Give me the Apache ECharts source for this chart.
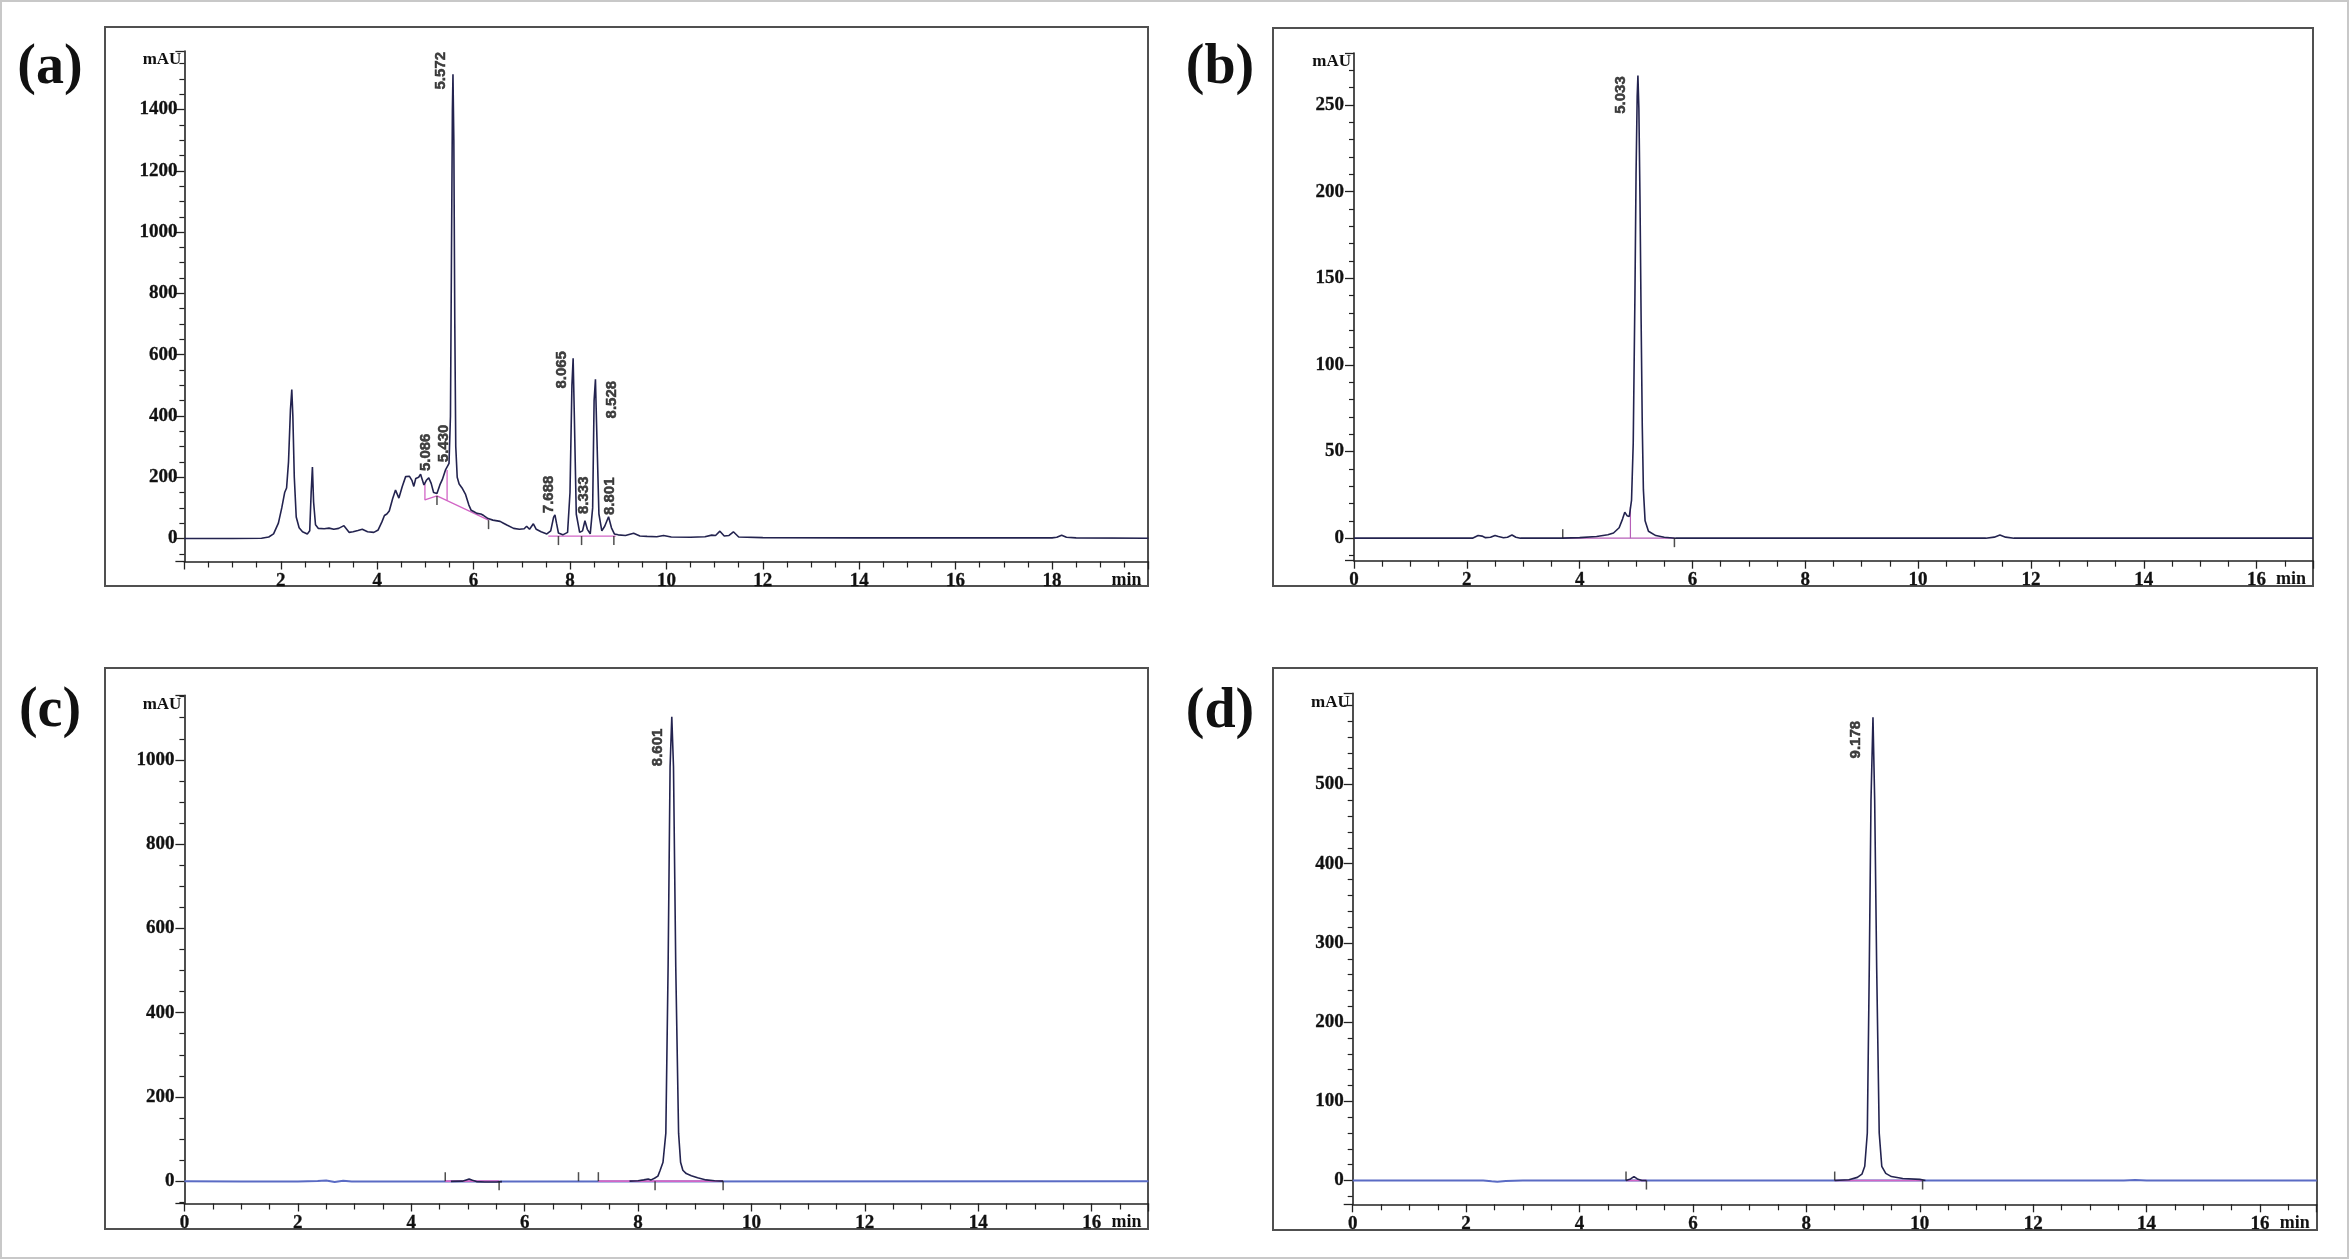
<!DOCTYPE html>
<html><head><meta charset="utf-8">
<script src="https://cdn.jsdelivr.net/npm/echarts@6/dist/echarts.min.js"></script>
<style>html,body{margin:0;padding:0;background:#fff}#c{width:2349px;height:1260px}</style>
</head><body><div id="c"></div>
<script>
// ---------------- DATA ----------------
// Panel (a) chromatogram (time in min, absorbance in mAU)
const traceA = [[0,0],[1.0,0],[1.6,1],[1.75,5],[1.85,15],[1.95,50],[2.02,100],[2.08,150],[2.12,165],[2.16,250],[2.2,420],[2.228,486],[2.25,400],[2.28,200],[2.32,70],[2.38,35],[2.45,22],[2.55,15],[2.6,25],[2.63,150],[2.656,233],[2.68,120],[2.72,45],[2.78,33],[2.9,32],[3.0,34],[3.1,30],[3.2,33],[3.31,42],[3.42,20],[3.5,22],[3.6,26],[3.69,30],[3.8,22],[3.93,20],[4.02,28],[4.1,55],[4.15,75],[4.2,80],[4.25,90],[4.32,130],[4.38,158],[4.45,132],[4.52,170],[4.59,202],[4.67,203],[4.72,190],[4.76,170],[4.8,196],[4.86,200],[4.9,210],[4.97,175],[5.02,190],[5.07,198],[5.12,180],[5.17,150],[5.24,147],[5.3,175],[5.35,192],[5.42,225],[5.49,245],[5.52,400],[5.54,900],[5.56,1400],[5.572,1515],[5.59,1300],[5.61,700],[5.63,300],[5.66,200],[5.7,178],[5.76,165],[5.83,145],[5.9,110],[5.95,92],[6.0,88],[6.07,82],[6.15,80],[6.21,75],[6.25,80],[6.3,65],[6.4,60],[6.55,56],[6.62,50],[6.69,44],[6.83,33],[6.95,30],[7.05,32],[7.1,40],[7.16,30],[7.24,48],[7.3,30],[7.4,22],[7.52,15],[7.6,25],[7.66,70],[7.688,77],[7.72,50],[7.76,18],[7.85,12],[7.95,20],[8.0,150],[8.04,500],[8.065,588],[8.09,400],[8.13,80],[8.2,20],[8.26,25],[8.31,58],[8.36,30],[8.42,15],[8.47,100],[8.5,450],[8.528,520],[8.55,380],[8.6,80],[8.66,25],[8.72,40],[8.8,71],[8.86,35],[8.92,15],[9.0,12],[9.15,10],[9.32,17],[9.45,8],[9.6,7],[9.8,6],[9.94,10],[10.1,5],[10.5,4],[10.8,6],[10.94,11],[11.02,10],[11.11,24],[11.2,8],[11.3,10],[11.39,22],[11.5,5],[12,3],[14,2],[16,2],[18.0,2],[18.1,4],[18.2,11],[18.3,4],[18.5,2],[20,1]];
const peakTimesA = [5.086, 5.430, 5.572, 7.688, 8.065, 8.333, 8.528, 8.801];
const peakHeightsA = [198, 224, 1515, 77, 588, 58, 520, 71];
const integA = [[[4.99,180],[4.99,126],[5.24,139],[6.31,60]], [[5.45,224],[5.45,125]], [[7.55,8],[8.95,8]]];
const eventsA = [[5.24,139],[6.31,60],[7.76,8],[8.24,8],[8.91,8]];

// Panel (b)
const traceB = [[0,0],[2.1,0],[2.2,1.5],[2.27,1.2],[2.33,0.3],[2.42,0.5],[2.5,1.6],[2.56,1.0],[2.65,0.2],[2.72,0.5],[2.8,1.8],[2.87,0.5],[2.95,0],[3.5,0],[3.7,0],[4.0,0.3],[4.3,1],[4.5,2],[4.6,3],[4.7,6],[4.76,11],[4.8,15],[4.84,13],[4.88,12.5],[4.92,22],[4.95,55],[4.98,140],[5.0,210],[5.02,255],[5.033,267],[5.05,248],[5.07,195],[5.09,125],[5.11,65],[5.13,28],[5.16,10],[5.22,4],[5.35,1.5],[5.5,0.5],[5.7,0],[11.2,0],[11.35,0.6],[11.45,1.8],[11.55,0.6],[11.7,0],[17,0]];
const peakTimesB = [5.033];
const peakHeightsB = [267];
const integB = [[[3.7,0],[5.68,0]], [[4.9,0],[4.9,18]]];
const eventsUpB = [[3.7,0]];
const eventsDownB = [[5.68,0]];

// Panel (c)
const baseC = [[0,0],[1.0,-1],[2.0,-1],[2.35,0.5],[2.5,1.5],[2.65,-2],[2.8,1],[2.95,-0.5],[3.5,-1],[4.5,-1],[4.6,-0.5],[6,-0.5],[17,0]];
const traceC1 = [[4.7,-0.5],[4.9,0],[4.97,3],[5.02,5],[5.08,2],[5.15,-1],[5.3,-2],[5.5,-2],[5.6,-1]];
const traceC2 = [[7.85,0],[8.0,1],[8.1,3],[8.18,5],[8.23,3],[8.29,7],[8.35,12],[8.39,26],[8.44,45],[8.49,114],[8.53,509],[8.565,984],[8.595,1102],[8.625,984],[8.665,509],[8.715,114],[8.75,45],[8.79,26],[8.85,18],[8.94,13],[9.05,8],[9.2,3],[9.35,1],[9.5,0]];
const peakTimesC = [8.601];
const peakHeightsC = [1102];
const integC = [[[4.6,0],[5.55,0]], [[7.3,0],[9.5,0]]];
const eventsUpC = [[4.6,0],[6.95,0],[7.3,0]];
const eventsDownC = [[5.55,0],[8.3,0],[9.5,0]];

// Panel (d)
const baseD = [[0,0],[2.3,0],[2.45,-1],[2.55,-1.5],[2.7,-0.5],[3,0],[13.6,0],[13.8,0.8],[14,0],[17,0]];
const traceD1 = [[4.82,0],[4.9,2],[4.96,5],[5.02,2],[5.1,0],[5.18,0]];
const traceD2 = [[8.5,0],[8.75,1],[8.9,4],[8.98,8],[9.03,18],[9.075,60],[9.11,270],[9.14,480],[9.175,585],[9.205,480],[9.24,270],[9.285,60],[9.33,18],[9.4,9],[9.5,5],[9.7,2.5],[10.0,1.5],[10.1,0]];
const peakTimesD = [9.178];
const peakHeightsD = [585];
const integD = [[[4.82,0],[5.18,0]], [[8.5,0],[10.05,0]]];
const eventsUpD = [[4.82,0],[8.5,0]];
const eventsDownD = [[5.18,0],[10.05,0]];

// Axis ranges / ticks
const xRanges = [[0,20],[0,17],[0,17],[0,17]];
const yRanges = [[-75,1591],[-13,280],[-53,1153],[-30,615]];
const yTickSteps = [200, 50, 200, 100];
const yMinorSplits = [4, 5, 4, 5];
const panelLetters = ['(a)','(b)','(c)','(d)'];

// ---------------- LAYOUT / STYLE ----------------
const grids = [
  {left:184.4, top:51, width:964, height:510.5},
  {left:1354, top:53, width:959, height:507.7},
  {left:184.4, top:695.4, width:964, height:508.1},
  {left:1352.7, top:693.4, width:964, height:510.9}
];
const boxes = [
  {x:105, y:27, w:1043, h:559},
  {x:1273, y:28, w:1040, h:558},
  {x:105, y:668, w:1043, h:561},
  {x:1273, y:668, w:1044, h:562}
];
const letterPos = [[50,69],[1220,69],[50,712],[1220,713]];
// pixel offsets of the rotated peak labels relative to apex
const labelOffsetsA = [[-3,-25],[-2,-26],[-12,-3],[-6,-20],[-11,12],[-2,-25],[17,21],[1.5,-20]];
const labelOffsetsB = [[-17,20]];
const labelOffsetsC = [[-14,31]];
const labelOffsetsD = [[-17,23]];
const yLabelMargins = [7, 10, 10, 9];

const NAVY = '#23234f';
const BLUE = '#5a6bc4';
const MAG = '#d266c6';
const AX = '#222';
const serif = '"Liberation Serif", "Times New Roman", serif';

const xAxes = [], yAxes = [];
for (let i = 0; i < 4; i++) {
  const yTop = yRanges[i][1], step = yTickSteps[i];
  xAxes.push({
    type:'value', gridIndex:i, min:xRanges[i][0], max:xRanges[i][1], interval:2,
    axisLine:{show:true, onZero:false, lineStyle:{color:AX, width:1.6}},
    axisTick:{show:true, length:8, lineStyle:{color:AX, width:1.3}},
    minorTick:{show:true, splitNumber:4, length:6, lineStyle:{color:AX, width:1.2}},
    splitLine:{show:false},
    axisLabel:{show:true, margin:10, fontFamily:serif, fontWeight:'bold', fontSize:19, color:'#111',
      textBorderColor:'#111', textBorderWidth:0.3,
      showMinLabel: i !== 0, showMaxLabel:false, formatter:(v)=>String(v)},
    name:'min', nameLocation:'end', nameGap:-37,
    nameTextStyle:{fontFamily:serif, fontWeight:'bold', fontSize:18, color:'#111', align:'left', verticalAlign:'top', padding:[10,0,0,0]}
  });
  yAxes.push({
    type:'value', gridIndex:i, min:yRanges[i][0], max:yTop,
    splitNumber: Math.round((yTop-yRanges[i][0])/step),
    minInterval:step, maxInterval:step,
    axisLine:{show:true, onZero:false, lineStyle:{color:AX, width:1.6}},
    axisTick:{show:true, length:9, lineStyle:{color:AX, width:1.3}},
    minorTick:{show:true, splitNumber:yMinorSplits[i], length:5, lineStyle:{color:AX, width:1.2}},
    splitLine:{show:false},
    axisLabel:{show:true, margin:yLabelMargins[i], fontFamily:serif, fontWeight:'bold', fontSize:19, color:'#111',
      textBorderColor:'#111', textBorderWidth:0.3,
      showMinLabel:false, showMaxLabel:false,
      formatter:(v)=> (v > yTop - step*0.3 || v < 0) ? '' : String(v)},
    name:'mAU', nameLocation:'end', nameGap:-9,
    nameTextStyle:{fontFamily:serif, fontWeight:'bold', fontSize:17, color:'#111', align:'right', verticalAlign:'middle', padding:[0,3,0,0]}
  });
}

const series = [];
function lineS(i, data, color, z, width) {
  series.push({type:'line', xAxisIndex:i, yAxisIndex:i, data:data, showSymbol:false, symbol:'none',
    lineStyle:{color:color, width:width || 1.6}, z:z, silent:true, animation:false, clip:true});
}
function labelS(i, times, heights, offsets) {
  series.push({type:'scatter', xAxisIndex:i, yAxisIndex:i, symbol:'circle', symbolSize:1,
    itemStyle:{color:'rgba(0,0,0,0)'}, z:10, silent:true, animation:false,
    data: times.map((t,k)=>({value:[t, heights[k]], label:{position:[offsets[k][0], offsets[k][1]]}})),
    label:{show:true, rotate:90, align:'center', verticalAlign:'middle',
      formatter:(p)=>p.value[0].toFixed(3), fontFamily:'"Liberation Sans", Arial, sans-serif', fontWeight:'bold', fontSize:15,
      color:'#111', textBorderColor:'#111', textBorderWidth:0.5}});
}
function eventS(i, data, dir) {
  series.push({type:'scatter', xAxisIndex:i, yAxisIndex:i, symbol:'rect', symbolSize:[1.5,9],
    symbolOffset:[0, dir*4.5], itemStyle:{color:'#222'}, z:6, silent:true, animation:false, data:data});
}

// (a)
lineS(0, traceA, NAVY, 5);
integA.forEach(seg => lineS(0, seg, MAG, 4, 1.3));
eventS(0, eventsA, 1);
labelS(0, peakTimesA, peakHeightsA, labelOffsetsA);
// (b)
lineS(1, traceB, NAVY, 5);
integB.forEach(seg => lineS(1, seg, '#b65fb8', 4, 1.2));
eventS(1, eventsUpB, -1); eventS(1, eventsDownB, 1);
labelS(1, peakTimesB, peakHeightsB, labelOffsetsB);
// (c)
lineS(2, baseC, BLUE, 3, 2);
integC.forEach(seg => lineS(2, seg, MAG, 4, 1.6));
lineS(2, traceC1, NAVY, 5);
lineS(2, traceC2, NAVY, 5);
eventS(2, eventsUpC, -1); eventS(2, eventsDownC, 1);
labelS(2, peakTimesC, peakHeightsC, labelOffsetsC);
// (d)
lineS(3, baseD, BLUE, 3, 2);
integD.forEach(seg => lineS(3, seg, MAG, 4, 1.6));
lineS(3, traceD1, NAVY, 5);
lineS(3, traceD2, NAVY, 5);
eventS(3, eventsUpD, -1); eventS(3, eventsDownD, 1);
labelS(3, peakTimesD, peakHeightsD, labelOffsetsD);

const graphics = [
  {type:'rect', shape:{x:1, y:1, width:2347, height:1257}, style:{fill:'none', stroke:'#c8c8c8', lineWidth:2}, silent:true, z:-10}
];
boxes.forEach(b => graphics.push({type:'rect', shape:{x:b.x, y:b.y, width:b.w, height:b.h},
  style:{fill:'none', stroke:'#505050', lineWidth:2}, silent:true, z:-5}));
panelLetters.forEach((t,k) => graphics.push({type:'text', x:letterPos[k][0], y:letterPos[k][1],
  style:{text:t, font:'bold 56px ' + serif, fill:'#111', textAlign:'center', textVerticalAlign:'middle'}, silent:true}));

const chart = echarts.init(document.getElementById('c'), null, {renderer:'canvas'});
chart.setOption({
  backgroundColor:'#ffffff',
  animation:false,
  grid: grids.map(g => Object.assign({containLabel:false}, g)),
  xAxis: xAxes,
  yAxis: yAxes,
  series: series,
  graphic: graphics
});
</script>
</body></html>
